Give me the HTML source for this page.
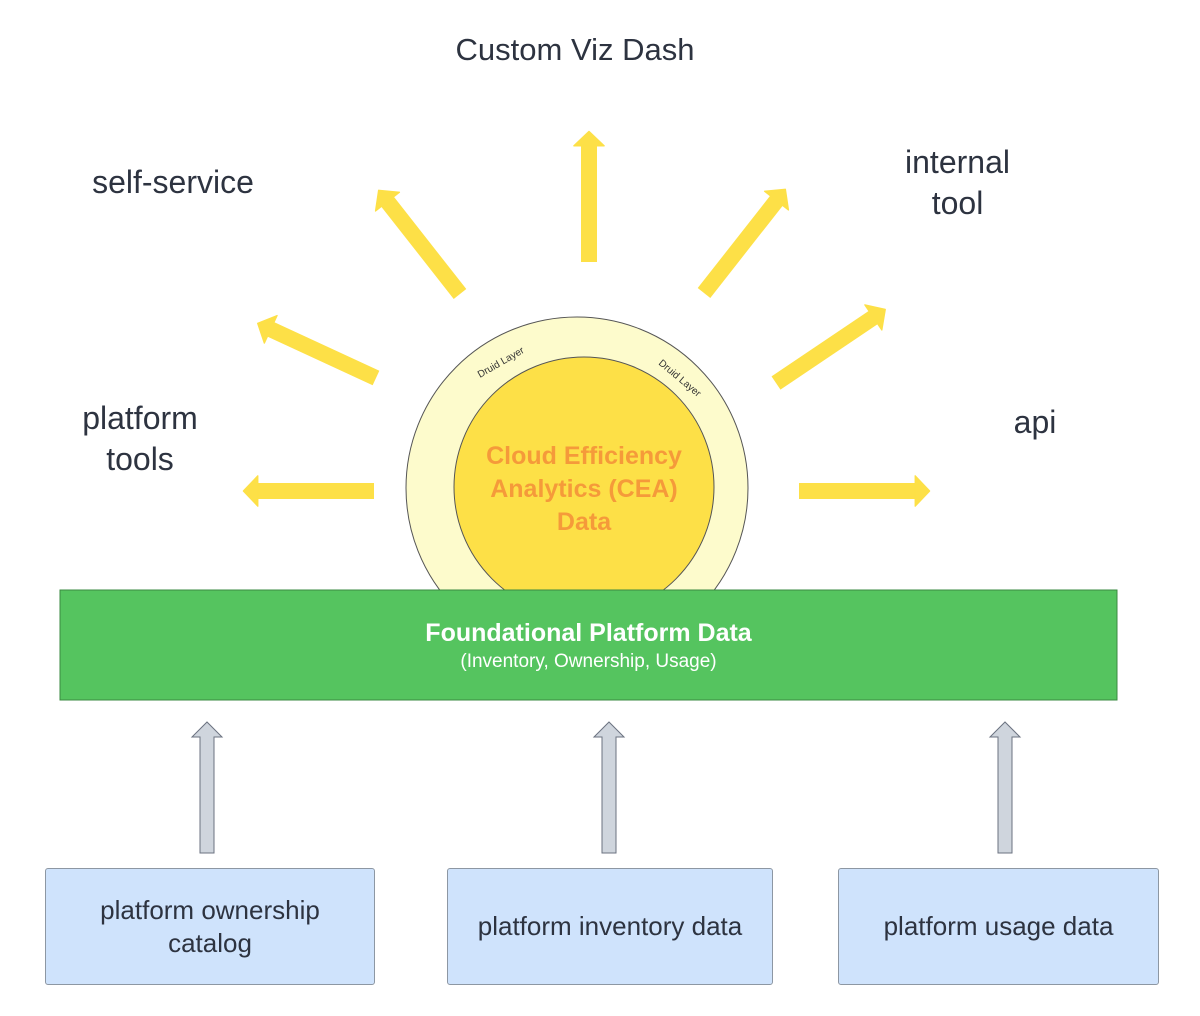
<!DOCTYPE html>
<html><head><style>
body{margin:0;background:#fff;width:1200px;height:1016px;overflow:hidden;position:relative;font-family:"Liberation Sans","DejaVu Sans",sans-serif;color:#2d3340}
.t{position:absolute;font-size:32px;text-align:center;line-height:41px}
.box{position:absolute;background:#cfe3fc;border:1px solid #8d97a3;border-radius:3px;display:flex;align-items:center;justify-content:center;text-align:center;font-size:26px;line-height:33px;color:#2d3340}
</style></head><body>
<svg width="1200" height="1016" style="position:absolute;left:0;top:0">
<defs>
<marker id="h" markerWidth="1" markerHeight="2" refX="0.05" refY="0.95" orient="auto" markerUnits="strokeWidth" overflow="visible"><path d="M0,0 L0.9,0.95 L0,1.9 Z" fill="#fde047" stroke="#fde047" stroke-width="0.08" stroke-linejoin="round"/></marker>
</defs>
<g stroke="#fde047" stroke-width="16" stroke-linecap="butt" marker-end="url(#h)" fill="none">
<line x1="589" y1="262" x2="589" y2="145"/>
<line x1="460" y1="294" x2="387" y2="201"/>
<line x1="704" y1="293" x2="777" y2="200"/>
<line x1="376" y1="378" x2="270" y2="329"/>
<line x1="776" y1="383" x2="874" y2="317"/>
<line x1="374" y1="491" x2="257" y2="491"/>
<line x1="799" y1="491" x2="916" y2="491"/>
</g>
<circle cx="577" cy="488" r="171" fill="#fdfbcc" stroke="#555" stroke-width="1"/>
<circle cx="584" cy="487" r="130" fill="#fde047" stroke="#555" stroke-width="1"/>
<text x="0" y="0" font-size="10" fill="#333" transform="translate(480,378) rotate(-30)">Druid Layer</text>
<text x="0" y="0" font-size="10" fill="#333" transform="translate(658,364) rotate(40)">Druid Layer</text>
<rect x="60" y="590" width="1057" height="110" fill="#55c45f" stroke="#3a8a40"/>
<g fill="#cfd5dd" stroke="#6b7280" stroke-width="1">
<path d="M200,853 L200,737 L192,737 L207,722 L222,737 L214,737 L214,853 Z"/>
<path d="M602,853 L602,737 L594,737 L609,722 L624,737 L616,737 L616,853 Z"/>
<path d="M998,853 L998,737 L990,737 L1005,722 L1020,737 L1012,737 L1012,853 Z"/>
</g>
</svg>
<div class="t" style="left:400px;top:29px;width:350px;font-size:31px">Custom Viz Dash</div>
<div class="t" style="left:53px;top:162px;width:240px">self-service</div>
<div class="t" style="left:860px;top:142px;width:195px">internal<br>tool</div>
<div class="t" style="left:40px;top:398px;width:200px">platform<br>tools</div>
<div class="t" style="left:985px;top:402px;width:100px">api</div>
<div style="position:absolute;left:430px;top:440px;width:308px;text-align:center;font-weight:bold;font-size:25px;line-height:33px;color:#f59a3a">Cloud Efficiency<br>Analytics (CEA)<br>Data</div>
<div style="position:absolute;left:60px;top:617px;width:1057px;text-align:center;color:#fff"><div style="font-weight:bold;font-size:25px;line-height:32px">Foundational Platform Data</div><div style="font-size:19px;line-height:26px">(Inventory, Ownership, Usage)</div></div>
<div class="box" style="left:45px;top:868px;width:328px;height:115px">platform ownership<br>catalog</div>
<div class="box" style="left:447px;top:868px;width:324px;height:115px">platform inventory data</div>
<div class="box" style="left:838px;top:868px;width:319px;height:115px">platform usage data</div>
</body></html>
